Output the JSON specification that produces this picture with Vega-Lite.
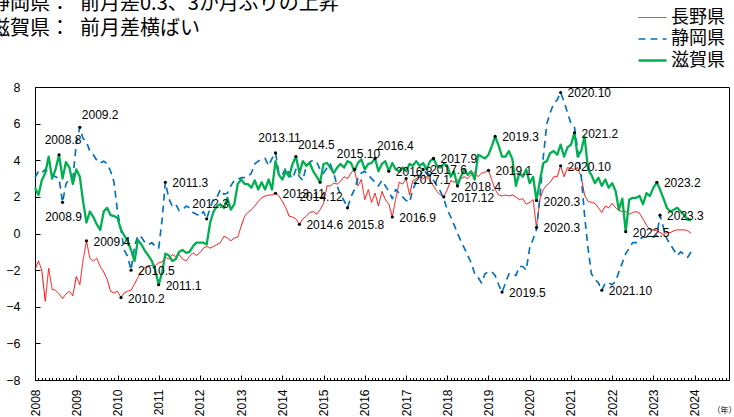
{
  "$schema": "https://vega.github.io/schema/vega-lite/v6.json",
  "width": 694,
  "height": 293,
  "autosize": {"type": "none"},
  "padding": {"left": 35, "top": 87, "right": 5, "bottom": 37},
  "background": "white",
  "title": {
    "text": ["静岡県：\u2002前月差0.3、3か月ぶりの上昇", "滋賀県：\u2002前月差横ばい"],
    "anchor": "start",
    "frame": "group",
    "font": "Noto Sans CJK JP",
    "fontSize": 20,
    "fontWeight": "normal",
    "lineHeight": 25,
    "color": "black",
    "offset": -30,
    "dx": -45
  },
  "config": {
    "view": {"stroke": "black", "strokeWidth": 1},
    "axis": {"grid": false, "domainColor": "black", "tickColor": "black", "labelColor": "black"}
  },
  "datasets": {
    "monthly": [
      {"date":"2008-01","長野県":-1.97,"静岡県":3.05,"滋賀県":2.5},
      {"date":"2008-02","長野県":-1.5,"静岡県":3.4,"滋賀県":2.1},
      {"date":"2008-03","長野県":-2.0,"静岡県":3.3,"滋賀県":2.9},
      {"date":"2008-04","長野県":-3.7,"静岡県":3.5,"滋賀県":3.3},
      {"date":"2008-05","長野県":-1.9,"静岡県":3.3,"滋賀県":4.2},
      {"date":"2008-06","長野県":-3.05,"静岡県":3.2,"滋賀県":3.0},
      {"date":"2008-07","長野県":-3.1,"静岡県":3.1,"滋賀県":3.5},
      {"date":"2008-08","長野県":-3.3,"静岡県":3.0,"滋賀県":4.3},
      {"date":"2008-09","長野県":-3.55,"静岡県":1.7,"滋賀県":3.0},
      {"date":"2008-10","長野県":-3.3,"静岡県":2.7,"滋賀県":3.9},
      {"date":"2008-11","長野県":-3.15,"静岡県":3.0,"滋賀県":3.6},
      {"date":"2008-12","長野県":-3.4,"静岡県":3.0,"滋賀県":2.7},
      {"date":"2009-01","長野県":-2.35,"静岡県":4.9,"滋賀県":3.5},
      {"date":"2009-02","長野県":-2.8,"静岡県":5.8,"滋賀県":3.1},
      {"date":"2009-03","長野県":-1.5,"静岡県":5.2,"滋賀県":1.8},
      {"date":"2009-04","長野県":-0.4,"静岡県":5.0,"滋賀県":0.6},
      {"date":"2009-05","長野県":-1.35,"静岡県":4.5,"滋賀県":1.2},
      {"date":"2009-06","長野県":-1.5,"静岡県":4.3,"滋賀県":0.9},
      {"date":"2009-07","長野県":-1.35,"静岡県":4.0,"滋賀県":0.5},
      {"date":"2009-08","長野県":-1.8,"静岡県":3.85,"滋賀県":0.2},
      {"date":"2009-09","長野県":-2.1,"静岡県":3.95,"滋賀県":1.2},
      {"date":"2009-10","長野県":-2.5,"静岡県":3.8,"滋賀県":1.4},
      {"date":"2009-11","長野県":-3.15,"静岡県":3.4,"滋賀県":1.0},
      {"date":"2009-12","長野県":-3.25,"静岡県":2.8,"滋賀県":0.95},
      {"date":"2010-01","長野県":-3.15,"静岡県":1.2,"滋賀県":0.85},
      {"date":"2010-02","長野県":-3.5,"静岡県":0.2,"滋賀県":0.2},
      {"date":"2010-03","長野県":-3.25,"静岡県":-0.9,"滋賀県":-0.1},
      {"date":"2010-04","長野県":-3.15,"静岡県":-1.25,"滋賀県":-0.4},
      {"date":"2010-05","長野県":-3.1,"静岡県":-2.0,"滋賀県":-0.9},
      {"date":"2010-06","長野県":-2.75,"静岡県":-0.7,"滋賀県":-1.5},
      {"date":"2010-07","長野県":-2.4,"静岡県":-0.1,"滋賀県":-0.35},
      {"date":"2010-08","長野県":-2.1,"静岡県":-0.2,"滋賀県":-0.6},
      {"date":"2010-09","長野県":-1.85,"静岡県":-0.5,"滋賀県":-0.95},
      {"date":"2010-10","長野県":-1.75,"静岡県":-0.6,"滋賀県":-1.2},
      {"date":"2010-11","長野県":-1.75,"静岡県":-0.5,"滋賀県":-1.5},
      {"date":"2010-12","長野県":-1.75,"静岡県":-0.7,"滋賀県":-2.0},
      {"date":"2011-01","長野県":-1.6,"静岡県":-0.8,"滋賀県":-2.8},
      {"date":"2011-02","長野県":-1.55,"静岡県":0.8,"滋賀県":-2.1},
      {"date":"2011-03","長野県":-1.3,"静岡県":2.8,"滋賀県":-1.1},
      {"date":"2011-04","長野県":-1.4,"静岡県":1.9,"滋賀県":-1.2},
      {"date":"2011-05","長野県":-1.15,"静岡県":1.5,"滋賀県":-1.5},
      {"date":"2011-06","長野県":-1.25,"静岡県":1.6,"滋賀県":-1.4},
      {"date":"2011-07","長野県":-1.15,"静岡県":1.25,"滋賀県":-1.0},
      {"date":"2011-08","長野県":-1.4,"静岡県":1.3,"滋賀県":-0.9},
      {"date":"2011-09","長野県":-1.5,"静岡県":1.5,"滋賀県":-1.05},
      {"date":"2011-10","長野県":-1.25,"静岡県":1.4,"滋賀県":-1.0},
      {"date":"2011-11","長野県":-1.05,"静岡県":1.15,"滋賀県":-0.7},
      {"date":"2011-12","長野県":-1.2,"静岡県":1.05,"滋賀県":-0.5},
      {"date":"2012-01","長野県":-1.05,"静岡県":0.95,"滋賀県":-0.5},
      {"date":"2012-02","長野県":-0.8,"静岡県":1.2,"滋賀県":-0.5},
      {"date":"2012-03","長野県":-0.7,"静岡県":0.8,"滋賀県":-0.6},
      {"date":"2012-04","長野県":-0.8,"静岡県":1.4,"滋賀県":0.6},
      {"date":"2012-05","長野県":-0.7,"静岡県":1.9,"滋賀県":1.2},
      {"date":"2012-06","長野県":-0.6,"静岡県":2.0,"滋賀県":1.5},
      {"date":"2012-07","長野県":-0.5,"静岡県":2.4,"滋賀県":1.6},
      {"date":"2012-08","長野県":-0.15,"静岡県":2.15,"滋賀県":1.4},
      {"date":"2012-09","長野県":-0.25,"静岡県":2.2,"滋賀県":1.95},
      {"date":"2012-10","長野県":-0.4,"静岡県":2.6,"滋賀県":1.3},
      {"date":"2012-11","長野県":-0.25,"静岡県":2.9,"滋賀県":1.6},
      {"date":"2012-12","長野県":-0.2,"静岡県":2.95,"滋賀県":2.7},
      {"date":"2013-01","長野県":0.4,"静岡県":3.05,"滋賀県":2.95},
      {"date":"2013-02","長野県":0.95,"静岡県":3.05,"滋賀県":2.7},
      {"date":"2013-03","長野県":1.15,"静岡県":3.1,"滋賀県":2.7},
      {"date":"2013-04","長野県":1.3,"静岡県":3.3,"滋賀県":2.5},
      {"date":"2013-05","長野県":1.5,"静岡県":3.8,"滋賀県":2.9},
      {"date":"2013-06","長野県":1.75,"静岡県":3.95,"滋賀県":2.4},
      {"date":"2013-07","長野県":1.95,"静岡県":4.05,"滋賀県":2.8},
      {"date":"2013-08","長野県":2.05,"静岡県":4.1,"滋賀県":2.4},
      {"date":"2013-09","長野県":2.1,"静岡県":3.7,"滋賀県":2.95},
      {"date":"2013-10","長野県":2.1,"静岡県":4.1,"滋賀県":2.4},
      {"date":"2013-11","長野県":2.2,"静岡県":4.4,"滋賀県":3.95},
      {"date":"2013-12","長野県":2.05,"静岡県":3.3,"滋賀県":3.2},
      {"date":"2014-01","長野県":1.75,"静岡県":3.2,"滋賀県":2.95},
      {"date":"2014-02","長野県":1.4,"静岡県":3.6,"滋賀県":3.4},
      {"date":"2014-03","長野県":0.95,"静岡県":3.3,"滋賀県":3.1},
      {"date":"2014-04","長野県":0.9,"静岡県":3.0,"滋賀県":3.8},
      {"date":"2014-05","長野県":0.8,"静岡県":3.5,"滋賀県":4.2},
      {"date":"2014-06","長野県":0.5,"静岡県":3.1,"滋賀県":3.3},
      {"date":"2014-07","長野県":0.8,"静岡県":2.9,"滋賀県":3.95},
      {"date":"2014-08","長野県":0.95,"静岡県":3.7,"滋賀県":3.7},
      {"date":"2014-09","長野県":1.15,"静岡県":3.9,"滋賀県":3.85},
      {"date":"2014-10","長野県":1.2,"静岡県":4.0,"滋賀県":3.4},
      {"date":"2014-11","長野県":1.05,"静岡県":3.9,"滋賀県":3.1},
      {"date":"2014-12","長野県":1.3,"静岡県":3.5,"滋賀県":2.8},
      {"date":"2015-01","長野県":1.65,"静岡県":3.3,"滋賀県":3.8},
      {"date":"2015-02","長野県":2.6,"静岡県":3.6,"滋賀県":3.85},
      {"date":"2015-03","長野県":2.6,"静岡県":3.8,"滋賀県":3.6},
      {"date":"2015-04","長野県":2.75,"静岡県":3.3,"滋賀県":3.3},
      {"date":"2015-05","長野県":2.7,"静岡県":2.6,"滋賀県":3.6},
      {"date":"2015-06","長野県":2.85,"静岡県":2.1,"滋賀県":3.8},
      {"date":"2015-07","長野県":3.1,"静岡県":1.8,"滋賀県":3.6},
      {"date":"2015-08","長野県":3.0,"静岡県":1.4,"滋賀県":3.95},
      {"date":"2015-09","長野県":3.3,"静岡県":2.0,"滋賀県":3.85},
      {"date":"2015-10","長野県":3.5,"静岡県":2.4,"滋賀県":3.4},
      {"date":"2015-11","長野県":2.6,"静岡県":3.0,"滋賀県":3.85},
      {"date":"2015-12","長野県":2.95,"静岡県":3.3,"滋賀県":4.05},
      {"date":"2016-01","長野県":1.85,"静岡県":3.4,"滋賀県":3.5},
      {"date":"2016-02","長野県":2.4,"静岡県":3.2,"滋賀県":3.8},
      {"date":"2016-03","長野県":1.7,"静岡県":3.0,"滋賀県":3.85},
      {"date":"2016-04","長野県":2.2,"静岡県":2.8,"滋賀県":4.1},
      {"date":"2016-05","長野県":1.5,"静岡県":2.6,"滋賀県":3.4},
      {"date":"2016-06","長野県":2.3,"静岡県":2.9,"滋賀県":3.8},
      {"date":"2016-07","長野県":1.85,"静岡県":2.6,"滋賀県":3.95},
      {"date":"2016-08","長野県":1.6,"静岡県":2.3,"滋賀県":3.4},
      {"date":"2016-09","長野県":0.9,"静岡県":1.9,"滋賀県":3.85},
      {"date":"2016-10","長野県":1.9,"静岡県":2.4,"滋賀県":3.5},
      {"date":"2016-11","長野県":2.8,"静岡県":2.2,"滋賀県":3.4},
      {"date":"2016-12","長野県":2.7,"静岡県":2.0,"滋賀県":3.6},
      {"date":"2017-01","長野県":3.0,"静岡県":1.8,"滋賀県":3.4},
      {"date":"2017-02","長野県":2.1,"静岡県":1.7,"滋賀県":3.8},
      {"date":"2017-03","長野県":2.9,"静岡県":2.4,"滋賀県":3.7},
      {"date":"2017-04","長野県":3.0,"静岡県":2.8,"滋賀県":3.95},
      {"date":"2017-05","長野県":3.1,"静岡県":3.1,"滋賀県":3.7},
      {"date":"2017-06","長野県":3.0,"静岡県":3.5,"滋賀県":3.85},
      {"date":"2017-07","長野県":3.1,"静岡県":3.3,"滋賀県":3.5},
      {"date":"2017-08","長野県":2.9,"静岡県":3.2,"滋賀県":3.95},
      {"date":"2017-09","長野県":2.6,"静岡県":2.9,"滋賀県":4.1},
      {"date":"2017-10","長野県":2.3,"静岡県":2.6,"滋賀県":3.7},
      {"date":"2017-11","長野県":2.1,"静岡県":2.3,"滋賀県":3.6},
      {"date":"2017-12","長野県":2.0,"静岡県":1.9,"滋賀県":3.8},
      {"date":"2018-01","長野県":2.4,"静岡県":1.3,"滋賀県":3.7},
      {"date":"2018-02","長野県":2.9,"静岡県":0.9,"滋賀県":3.1},
      {"date":"2018-03","長野県":2.8,"静岡県":0.5,"滋賀県":3.4},
      {"date":"2018-04","長野県":2.9,"静岡県":0.0,"滋賀県":2.6},
      {"date":"2018-05","長野県":3.0,"静岡県":-0.4,"滋賀県":3.1},
      {"date":"2018-06","長野県":3.1,"静岡県":-0.8,"滋賀県":3.5},
      {"date":"2018-07","長野県":3.0,"静岡県":-1.2,"滋賀県":3.2},
      {"date":"2018-08","長野県":3.2,"静岡県":-1.6,"滋賀県":3.4},
      {"date":"2018-09","長野県":3.35,"静岡県":-2.2,"滋賀県":2.95},
      {"date":"2018-10","長野県":3.1,"静岡県":-2.4,"滋賀県":4.3},
      {"date":"2018-11","長野県":3.3,"静岡県":-2.7,"滋賀県":4.2},
      {"date":"2018-12","長野県":3.35,"静岡県":-2.2,"滋賀県":4.1},
      {"date":"2019-01","長野県":3.45,"静岡県":-2.1,"滋賀県":4.3},
      {"date":"2019-02","長野県":2.9,"静岡県":-2.1,"滋賀県":4.8},
      {"date":"2019-03","長野県":2.4,"静岡県":-2.3,"滋賀県":5.3},
      {"date":"2019-04","長野県":2.1,"静岡県":-2.8,"滋賀県":4.8},
      {"date":"2019-05","長野県":2.05,"静岡県":-3.2,"滋賀県":4.2},
      {"date":"2019-06","長野県":2.1,"静岡県":-2.7,"滋賀県":4.2},
      {"date":"2019-07","長野県":2.05,"静岡県":-2.2,"滋賀県":4.5},
      {"date":"2019-08","長野県":2.1,"静岡県":-2.2,"滋賀県":4.05},
      {"date":"2019-09","長野県":2.0,"静岡県":-2.3,"滋賀県":2.6},
      {"date":"2019-10","長野県":1.85,"静岡県":-1.8,"滋賀県":3.3},
      {"date":"2019-11","長野県":1.9,"静岡県":-1.8,"滋賀県":3.1},
      {"date":"2019-12","長野県":1.6,"静岡県":-2.0,"滋賀県":3.5},
      {"date":"2020-01","長野県":1.7,"静岡県":-0.8,"滋賀県":2.75},
      {"date":"2020-02","長野県":1.85,"静岡県":-0.3,"滋賀県":3.1},
      {"date":"2020-03","長野県":0.33,"静岡県":0.2,"滋賀県":1.8},
      {"date":"2020-04","長野県":1.9,"静岡県":2.0,"滋賀県":2.9},
      {"date":"2020-05","長野県":2.4,"静岡県":4.2,"滋賀県":3.85},
      {"date":"2020-06","長野県":2.65,"静岡県":6.0,"滋賀県":3.95},
      {"date":"2020-07","長野県":2.8,"静岡県":6.6,"滋賀県":4.4},
      {"date":"2020-08","長野県":3.1,"静岡県":7.1,"滋賀県":4.5},
      {"date":"2020-09","長野県":3.1,"静岡県":7.3,"滋賀県":4.3},
      {"date":"2020-10","長野県":3.7,"静岡県":7.7,"滋賀県":4.85},
      {"date":"2020-11","長野県":3.1,"静岡県":7.2,"滋賀県":4.2},
      {"date":"2020-12","長野県":3.6,"静岡県":6.6,"滋賀県":4.7},
      {"date":"2021-01","長野県":3.55,"静岡県":6.0,"滋賀県":4.85},
      {"date":"2021-02","長野県":3.5,"静岡県":5.8,"滋賀県":5.5},
      {"date":"2021-03","長野県":3.6,"静岡県":4.6,"滋賀県":4.2},
      {"date":"2021-04","長野県":3.1,"静岡県":3.2,"滋賀県":4.5},
      {"date":"2021-05","長野県":2.1,"静岡県":1.0,"滋賀県":5.3},
      {"date":"2021-06","長野県":1.75,"静岡県":-0.8,"滋賀県":3.5},
      {"date":"2021-07","長野県":1.7,"静岡県":-2.2,"滋賀県":3.2},
      {"date":"2021-08","長野県":1.65,"静岡県":-2.5,"滋賀県":2.75},
      {"date":"2021-09","長野県":1.4,"静岡県":-2.7,"滋賀県":3.05},
      {"date":"2021-10","長野県":1.15,"静岡県":-3.1,"滋賀県":2.6},
      {"date":"2021-11","長野県":1.5,"静岡県":-2.7,"滋賀県":2.95},
      {"date":"2021-12","長野県":1.4,"静岡県":-2.7,"滋賀県":2.5},
      {"date":"2022-01","長野県":1.65,"静岡県":-2.8,"滋賀県":2.75},
      {"date":"2022-02","長野県":1.4,"静岡県":-2.6,"滋賀県":2.3},
      {"date":"2022-03","長野県":1.25,"静岡県":-2.1,"滋賀県":1.3},
      {"date":"2022-04","長野県":1.2,"静岡県":-1.6,"滋賀県":1.9},
      {"date":"2022-05","長野県":1.2,"静岡県":-1.1,"滋賀県":0.1},
      {"date":"2022-06","長野県":1.05,"静岡県":-0.8,"滋賀県":1.85},
      {"date":"2022-07","長野県":1.15,"静岡県":-0.5,"滋賀県":1.95},
      {"date":"2022-08","長野県":1.2,"静岡県":-0.5,"滋賀県":1.95},
      {"date":"2022-09","長野県":1.1,"静岡県":-0.3,"滋賀県":2.05},
      {"date":"2022-10","長野県":0.8,"静岡県":-0.2,"滋賀県":1.6},
      {"date":"2022-11","長野県":0.45,"静岡県":-0.2,"滋賀県":2.2},
      {"date":"2022-12","長野県":0.2,"静岡県":-0.1,"滋賀県":2.05},
      {"date":"2023-01","長野県":0.2,"静岡県":-0.2,"滋賀県":2.5},
      {"date":"2023-02","長野県":0.15,"静岡県":-0.1,"滋賀県":2.8},
      {"date":"2023-03","長野県":0.05,"静岡県":1.0,"滋賀県":2.4},
      {"date":"2023-04","長野県":-0.05,"静岡県":0.3,"滋賀県":1.9},
      {"date":"2023-05","長野県":0.05,"静岡県":-0.3,"滋賀県":1.4},
      {"date":"2023-06","長野県":0.05,"静岡県":-0.6,"滋賀県":1.2},
      {"date":"2023-07","長野県":0.15,"静岡県":-0.9,"滋賀県":1.3},
      {"date":"2023-08","長野県":0.2,"静岡県":-1.2,"滋賀県":1.4},
      {"date":"2023-09","長野県":0.2,"静岡県":-1.0,"滋賀県":1.2},
      {"date":"2023-10","長野県":0.2,"静岡県":-1.15,"滋賀県":1.0},
      {"date":"2023-11","長野県":0.15,"静岡県":-1.3,"滋賀県":0.75},
      {"date":"2023-12","長野県":0.0,"静岡県":-1.0,"滋賀県":0.75}
    ],
    "notes": [
      {"date":"2008-08","series":"滋賀県","value":4.3,"label":"2008.8"},
      {"date":"2008-09","series":"静岡県","value":1.7,"label":"2008.9"},
      {"date":"2009-02","series":"静岡県","value":5.8,"label":"2009.2"},
      {"date":"2009-04","series":"長野県","value":-0.4,"label":"2009.4"},
      {"date":"2010-02","series":"長野県","value":-3.5,"label":"2010.2"},
      {"date":"2010-05","series":"静岡県","value":-2.0,"label":"2010.5"},
      {"date":"2011-01","series":"滋賀県","value":-2.8,"label":"2011.1"},
      {"date":"2011-03","series":"静岡県","value":2.8,"label":"2011.3"},
      {"date":"2012-03","series":"静岡県","value":0.8,"label":"2012.3"},
      {"date":"2013-11","series":"静岡県","value":4.4,"label":"2013.11"},
      {"date":"2013-11","series":"長野県","value":2.2,"label":"2013.11"},
      {"date":"2014-05","series":"滋賀県","value":4.2,"label":"2014.5"},
      {"date":"2014-06","series":"長野県","value":0.5,"label":"2014.6"},
      {"date":"2014-12","series":"滋賀県","value":2.8,"label":"2014.12"},
      {"date":"2015-08","series":"静岡県","value":1.4,"label":"2015.8"},
      {"date":"2015-10","series":"長野県","value":3.5,"label":"2015.10"},
      {"date":"2016-04","series":"滋賀県","value":4.1,"label":"2016.4"},
      {"date":"2016-08","series":"滋賀県","value":3.4,"label":"2016.8"},
      {"date":"2016-09","series":"長野県","value":0.9,"label":"2016.9"},
      {"date":"2017-01","series":"長野県","value":3.0,"label":"2017.1"},
      {"date":"2017-06","series":"静岡県","value":3.5,"label":"2017.6"},
      {"date":"2017-09","series":"滋賀県","value":4.1,"label":"2017.9"},
      {"date":"2017-12","series":"長野県","value":2.0,"label":"2017.12"},
      {"date":"2018-04","series":"滋賀県","value":2.6,"label":"2018.4"},
      {"date":"2019-01","series":"長野県","value":3.45,"label":"2019.1"},
      {"date":"2019-03","series":"滋賀県","value":5.3,"label":"2019.3"},
      {"date":"2019-05","series":"静岡県","value":-3.2,"label":"2019.5"},
      {"date":"2020-03","series":"滋賀県","value":1.8,"label":"2020.3"},
      {"date":"2020-03","series":"長野県","value":0.33,"label":"2020.3"},
      {"date":"2020-10","series":"静岡県","value":7.7,"label":"2020.10"},
      {"date":"2020-10","series":"長野県","value":3.7,"label":"2020.10"},
      {"date":"2021-02","series":"滋賀県","value":5.5,"label":"2021.2"},
      {"date":"2021-10","series":"静岡県","value":-3.1,"label":"2021.10"},
      {"date":"2022-05","series":"滋賀県","value":0.1,"label":"2022.5"},
      {"date":"2023-02","series":"滋賀県","value":2.8,"label":"2023.2"},
      {"date":"2023-03","series":"静岡県","value":1.0,"label":"2023.3"}
    ]
  },
  "encoding": {
    "x": {
      "field": "date",
      "type": "temporal",
      "scale": {"domain": [{"year": 2008, "month": 1, "date": 1}, {"year": 2024, "month": 11, "date": 1}], "nice": false},
      "axis": {
        "title": "（年）",
        "titleFont": "Noto Sans CJK JP",
        "titleFontSize": 8,
        "titleFontWeight": "normal",
        "titleColor": "black",
        "titleX": 689,
        "titleY": 30,
        "titleAlign": "center",
        "titleBaseline": "middle",
        "tickCount": {"interval": "month", "step": 1},
        "labelExpr": "month(datum.value) === 0 ? timeFormat(datum.value, '%Y') : ''",
        "labelAngle": 270,
        "labelFont": "Liberation Sans",
        "labelFontSize": 12,
        "labelOverlap": false,
        "labelFlush": false,
        "labelBound": false,
        "labelPadding": 14,
        "tickSize": {"condition": {"test": "month(datum.value) === 0", "value": -5}, "value": -2.5}
      }
    },
    "y": {
      "field": "value",
      "type": "quantitative",
      "scale": {"domain": [-8, 8], "nice": false},
      "axis": {
        "title": null,
        "values": [-8, -6, -4, -2, 0, 2, 4, 6, 8],
        "tickSize": -5,
        "labelPadding": 20,
        "labelFont": "Liberation Sans",
        "labelFontSize": 12.5
      }
    }
  },
  "layer": [
    {
      "data": {"name": "monthly"},
      "transform": [{"fold": ["長野県", "静岡県", "滋賀県"], "as": ["series", "value"]}],
      "mark": {"type": "line", "strokeJoin": "round"},
      "encoding": {
        "color": {
          "field": "series",
          "type": "nominal",
          "scale": {"domain": ["長野県", "静岡県", "滋賀県"], "range": ["#FF0000", "#0070C0", "#00B050"]},
          "legend": {
            "title": null,
            "orient": "none",
            "legendX": 602,
            "legendY": -78,
            "symbolType": "stroke",
            "symbolSize": 784,
            "labelFont": "Noto Sans CJK JP",
            "labelFontSize": 18,
            "labelColor": "black",
            "labelOffset": 3,
            "clipHeight": 17,
            "rowPadding": 2.5,
            "padding": 0
          }
        },
        "strokeDash": {
          "field": "series",
          "type": "nominal",
          "scale": {"domain": ["長野県", "静岡県", "滋賀県"], "range": [[1, 0], [7, 5], [1, 0]]}
        },
        "strokeWidth": {
          "field": "series",
          "type": "nominal",
          "scale": {"domain": ["長野県", "静岡県", "滋賀県"], "range": [1, 2.3, 4.8]}
        }
      }
    },
    {
      "data": {"name": "notes"},
      "mark": {"type": "circle", "size": 10, "color": "black", "opacity": 1}
    },
    {
      "data": {"name": "notes"},
      "transform": [{"filter": "!(indexof(['2008.8','2012.3','2015.10','2008.9','2014.12','2009.2','2014.5','2016.4','2015.8'], datum.label) >= 0 || (datum.label === '2013.11' && datum.series === '静岡県'))"}],
      "mark": {"type": "text", "font": "Liberation Sans", "fontSize": 12, "align": "left", "baseline": "middle", "dx": 7, "dy": 1, "color": "black"},
      "encoding": {"text": {"field": "label"}}
    },
    {
      "data": {"name": "notes"},
      "transform": [{"filter": "indexof(['2008.8','2012.3','2015.10'], datum.label) >= 0 || (datum.label === '2013.11' && datum.series === '静岡県')"}],
      "mark": {"type": "text", "font": "Liberation Sans", "fontSize": 12, "align": "center", "baseline": "middle", "dx": 4, "dy": -15, "color": "black"},
      "encoding": {"text": {"field": "label"}}
    },
    {
      "data": {"name": "notes"},
      "transform": [{"filter": "indexof(['2008.9','2014.12'], datum.label) >= 0"}],
      "mark": {"type": "text", "font": "Liberation Sans", "fontSize": 12, "align": "center", "baseline": "middle", "dx": 1, "dy": 15, "color": "black"},
      "encoding": {"text": {"field": "label"}}
    },
    {
      "data": {"name": "notes"},
      "transform": [{"filter": "indexof(['2009.2','2014.5','2016.4'], datum.label) >= 0"}],
      "mark": {"type": "text", "font": "Liberation Sans", "fontSize": 12, "align": "left", "baseline": "middle", "dx": 2, "dy": -12, "color": "black"},
      "encoding": {"text": {"field": "label"}}
    },
    {
      "data": {"name": "notes"},
      "transform": [{"filter": "datum.label === '2015.8'"}],
      "mark": {"type": "text", "font": "Liberation Sans", "fontSize": 12, "align": "left", "baseline": "middle", "dx": 0, "dy": 17, "color": "black"},
      "encoding": {"text": {"field": "label"}}
    }
  ]
}
